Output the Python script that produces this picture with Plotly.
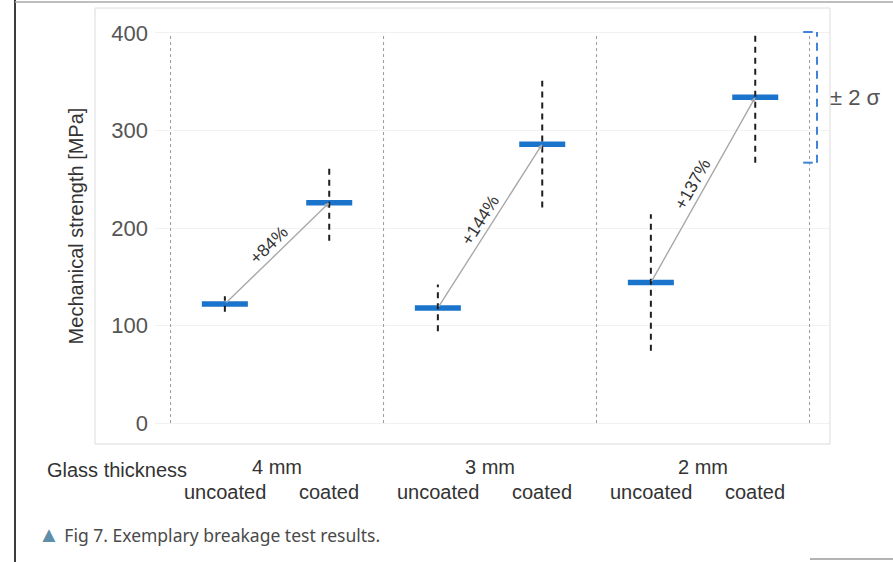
import math
import plotly.graph_objects as go

# ---------------- data ----------------
groups = ["4 mm", "3 mm", "2 mm"]
sub_labels = ["uncoated", "coated"]
uncoated_mean = [122, 118, 144]
uncoated_2sigma = [8, 24, 70]
coated_mean = [226, 286, 334]
coated_2sigma = [39, 65, 67]
increase_labels = ["+84%", "+144%", "+137%"]
y_ticks = [0, 100, 200, 300, 400]

# ---------------- layout constants ----------------
W, H = 893, 562
L, R, T, B = 155, 63, 8, 118
X_RANGE = [-0.573, 2.596]
Y_RANGE = [-21.5, 425.6]
OFF = 0.245          # half distance between uncoated / coated inside a group
HALF_BAR = 0.108     # half width of the mean bar
FONT = "Liberation Sans, Arial, sans-serif"
BLUE = "#1b74cc"

plot_w = W - L - R
plot_h = H - T - B
px_x = plot_w / (X_RANGE[1] - X_RANGE[0])
px_y = plot_h / (Y_RANGE[1] - Y_RANGE[0])


def px_to_paper_x(px):
    return (px - L) / plot_w


def px_to_paper_y(py):
    return (H - B - py) / plot_h


ux = [g - OFF for g in range(len(groups))]
cx = [g + OFF for g in range(len(groups))]
all_x = []
all_m = []
all_s = []
for i in range(len(groups)):
    all_x += [ux[i], cx[i]]
    all_m += [uncoated_mean[i], coated_mean[i]]
    all_s += [uncoated_2sigma[i], coated_2sigma[i]]

fig = go.Figure()

# mean bars
bx, by = [], []
for x, m in zip(all_x, all_m):
    bx += [x - HALF_BAR, x + HALF_BAR, None]
    by += [m, m, None]
fig.add_trace(go.Scatter(x=bx, y=by, mode="lines",
                         line=dict(color=BLUE, width=5.5), hoverinfo="skip",
                         showlegend=False))

# +/- 2 sigma dashed bars
ex, ey = [], []
for x, m, s in zip(all_x, all_m, all_s):
    ex += [x, x, None]
    ey += [m - s, m + s, None]
fig.add_trace(go.Scatter(x=ex, y=ey, mode="lines",
                         line=dict(color="#1e1e1e", width=2, dash="6px,5px"),
                         hoverinfo="skip", showlegend=False))

annotations = []
shapes = []

# arrows + percentage labels
for i in range(len(groups)):
    annotations.append(dict(
        x=cx[i], y=coated_mean[i], ax=ux[i], ay=uncoated_mean[i],
        xref="x", yref="y", axref="x", ayref="y", text="",
        showarrow=True, arrowhead=2, arrowsize=0.7, arrowwidth=1.4,
        arrowcolor="#a9a9a9", standoff=0, startstandoff=0))
    dxp = (cx[i] - ux[i]) * px_x
    dyp = (coated_mean[i] - uncoated_mean[i]) * px_y
    th = math.atan2(dyp, dxp)
    annotations.append(dict(
        x=(cx[i] + ux[i]) / 2, y=(coated_mean[i] + uncoated_mean[i]) / 2,
        xref="x", yref="y", text=increase_labels[i], showarrow=False,
        xanchor="center", yanchor="middle",
        textangle=-math.degrees(th),
        xshift=-12 * math.sin(th), yshift=12 * math.cos(th),
        font=dict(family=FONT, size=17.5, color="#333333")))

# group separators
for k in range(len(groups) + 1):
    shapes.append(dict(type="line", xref="x", yref="y",
                       x0=k - 0.5, x1=k - 0.5, y0=0, y1=400,
                       line=dict(color="#9a9a9a", width=1, dash="dot")))

# category labels under the chart
for i, g in enumerate(groups):
    annotations.append(dict(x=i, y=px_to_paper_y(467), xref="x", yref="paper",
                            text=g, showarrow=False, xanchor="center",
                            yanchor="middle",
                            font=dict(family=FONT, size=20, color="#333333")))
    for x, lab in zip([ux[i], cx[i]], sub_labels):
        annotations.append(dict(x=x, y=px_to_paper_y(492), xref="x", yref="paper",
                                text=lab, showarrow=False, xanchor="center",
                                yanchor="middle",
                                font=dict(family=FONT, size=20, color="#333333")))
annotations.append(dict(x=px_to_paper_x(117), y=px_to_paper_y(470), xref="paper",
                        yref="paper", text="Glass thickness", showarrow=False,
                        xanchor="center", yanchor="middle",
                        font=dict(family=FONT, size=20, color="#333333")))

# legend bracket (+/- 2 sigma)
lx = X_RANGE[0] + (817 - L) / px_x
lo = coated_mean[2] - coated_2sigma[2]
hi = coated_mean[2] + coated_2sigma[2]
LBLUE = "#3f82d6"
shapes.append(dict(type="line", xref="x", yref="y", x0=lx, x1=lx, y0=lo, y1=hi,
                   line=dict(color=LBLUE, width=2, dash="8px,6px")))
for yy in [lo, hi]:
    shapes.append(dict(type="line", xref="x", yref="y", x0=lx - 0.065,
                       x1=lx - 0.02, y0=yy, y1=yy,
                       line=dict(color=LBLUE, width=2)))
annotations.append(dict(x=px_to_paper_x(828), y=coated_mean[2], xref="paper",
                        yref="y", text="± 2 σ", showarrow=False, xanchor="left",
                        yanchor="middle",
                        font=dict(family=FONT, size=22, color="#555555")))

# caption
annotations.append(dict(
    x=px_to_paper_x(36), y=px_to_paper_y(533), xref="paper", yref="paper",
    xanchor="left", yanchor="middle", showarrow=False,
    text="<span style='color:#5e8fa6;font-size:22px'>▲</span> Fig 7. Exemplary breakage test results.",
    font=dict(family="Noto Sans, sans-serif", size=17.5, color="#4a4a4a")))

# frame around chart
shapes.append(dict(type="rect", xref="paper", yref="paper",
                   x0=px_to_paper_x(95), x1=1, y0=0, y1=1,
                   line=dict(color="#dcdcdc", width=1)))
# page borders
shapes.append(dict(type="line", xref="paper", yref="paper",
                   x0=px_to_paper_x(15), x1=px_to_paper_x(15),
                   y0=px_to_paper_y(0), y1=px_to_paper_y(562),
                   line=dict(color="#3c3c3c", width=2)))
shapes.append(dict(type="line", xref="paper", yref="paper",
                   x0=px_to_paper_x(15), x1=px_to_paper_x(893),
                   y0=px_to_paper_y(2), y1=px_to_paper_y(2),
                   line=dict(color="#a8a8a8", width=1.5)))
shapes.append(dict(type="line", xref="paper", yref="paper",
                   x0=px_to_paper_x(810), x1=px_to_paper_x(893),
                   y0=px_to_paper_y(559), y1=px_to_paper_y(559),
                   line=dict(color="#9a9a9a", width=1.5)))

fig.update_layout(
    width=W, height=H, margin=dict(l=L, r=R, t=T, b=B),
    paper_bgcolor="white", plot_bgcolor="white",
    showlegend=False, annotations=annotations, shapes=shapes,
    xaxis=dict(range=X_RANGE, showgrid=False, zeroline=False,
               showticklabels=False, ticks="", showline=False),
    yaxis=dict(range=Y_RANGE, tickvals=y_ticks, showgrid=True,
               gridcolor="#f2f2f2", zeroline=False, showline=False,
               ticks="", ticklabelstandoff=6,
               tickfont=dict(family=FONT, size=22, color="#555555"),
               title=dict(text="Mechanical strength [MPa]", standoff=22,
                          font=dict(family=FONT, size=20, color="#333333"))),
)

fig.write_html(
    "out.html",
    config={"displayModeBar": False},
    post_script="document.body.style.margin='0';document.body.style.overflow='hidden';",
)
